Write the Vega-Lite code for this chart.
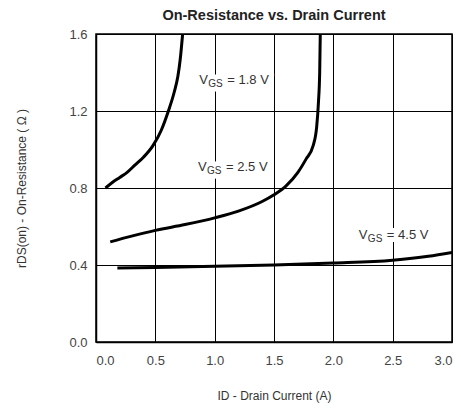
{
  "$schema": "https://vega.github.io/schema/vega-lite/v6.json",
  "autosize": "none",
  "width": 356,
  "height": 308,
  "padding": {"left": 96, "top": 34, "right": 9, "bottom": 67},
  "background": "white",
  "title": {"text": "On-Resistance vs. Drain Current", "font": "Liberation Sans", "fontSize": 14.5, "fontWeight": 600, "color": "#222", "offset": 5, "anchor": "middle"},
  "config": {
    "view": {"stroke": "black", "strokeWidth": 1.5},
    "axis": {"domainColor": "black", "domainWidth": 1.5, "gridColor": "black", "gridWidth": 1, "gridOpacity": 1, "ticks": false, "labelFont": "Liberation Sans", "labelFontSize": 13, "labelColor": "#444", "titleFont": "Liberation Sans", "titleFontSize": 12, "titleFontWeight": "normal", "titleColor": "#333"}
  },
  "datasets": {
    "curves": [
      {"vgs": "1.8", "id": 0.08, "r": 0.80}, {"vgs": "1.8", "id": 0.14, "r": 0.83}, {"vgs": "1.8", "id": 0.2, "r": 0.855}, {"vgs": "1.8", "id": 0.26, "r": 0.88}, {"vgs": "1.8", "id": 0.33, "r": 0.92}, {"vgs": "1.8", "id": 0.4, "r": 0.96}, {"vgs": "1.8", "id": 0.48, "r": 1.02}, {"vgs": "1.8", "id": 0.55, "r": 1.1}, {"vgs": "1.8", "id": 0.61, "r": 1.2}, {"vgs": "1.8", "id": 0.66, "r": 1.3}, {"vgs": "1.8", "id": 0.69, "r": 1.38}, {"vgs": "1.8", "id": 0.71, "r": 1.47}, {"vgs": "1.8", "id": 0.73, "r": 1.6},
      {"vgs": "2.5", "id": 0.12, "r": 0.52}, {"vgs": "2.5", "id": 0.3, "r": 0.55}, {"vgs": "2.5", "id": 0.5, "r": 0.58}, {"vgs": "2.5", "id": 0.75, "r": 0.61}, {"vgs": "2.5", "id": 1.0, "r": 0.645}, {"vgs": "2.5", "id": 1.2, "r": 0.68}, {"vgs": "2.5", "id": 1.4, "r": 0.73}, {"vgs": "2.5", "id": 1.5, "r": 0.765}, {"vgs": "2.5", "id": 1.6, "r": 0.81}, {"vgs": "2.5", "id": 1.7, "r": 0.88}, {"vgs": "2.5", "id": 1.77, "r": 0.95}, {"vgs": "2.5", "id": 1.83, "r": 1.02}, {"vgs": "2.5", "id": 1.86, "r": 1.12}, {"vgs": "2.5", "id": 1.875, "r": 1.25}, {"vgs": "2.5", "id": 1.885, "r": 1.4}, {"vgs": "2.5", "id": 1.89, "r": 1.6},
      {"vgs": "4.5", "id": 0.18, "r": 0.385}, {"vgs": "4.5", "id": 0.5, "r": 0.387}, {"vgs": "4.5", "id": 1.0, "r": 0.393}, {"vgs": "4.5", "id": 1.5, "r": 0.40}, {"vgs": "4.5", "id": 2.0, "r": 0.41}, {"vgs": "4.5", "id": 2.5, "r": 0.425}, {"vgs": "4.5", "id": 2.8, "r": 0.445}, {"vgs": "4.5", "id": 3.0, "r": 0.465}
    ],
    "labels": [
      {"id": 0.87, "r": 1.36, "v": "V", "sub": "GS", "rest": "= 1.8 V"},
      {"id": 0.86, "r": 0.91, "v": "V", "sub": "GS", "rest": "= 2.5 V"},
      {"id": 2.215, "r": 0.556, "v": "V", "sub": "GS", "rest": "= 4.5 V"}
    ]
  },
  "encoding": {
    "x": {"field": "id", "type": "quantitative", "scale": {"domain": [0, 3], "nice": false}, "axis": {"values": [0, 0.5, 1, 1.5, 2, 2.5, 3], "format": ".1f", "labelPadding": 12, "title": "ID  -  Drain Current (A)", "titlePadding": 23}},
    "y": {"field": "r", "type": "quantitative", "scale": {"domain": [0, 1.6], "nice": false}, "axis": {"values": [0, 0.4, 0.8, 1.2, 1.6], "format": ".1f", "labelPadding": 9, "title": "rDS(on)  -  On-Resistance ( Ω )", "titlePadding": 40}}
  },
  "layer": [
    {"data": {"name": "curves"}, "mark": {"type": "line", "color": "black", "strokeWidth": 3, "interpolate": "monotone", "clip": true}, "encoding": {"detail": {"field": "vgs"}}},
    {"data": {"name": "labels"}, "mark": {"type": "text", "align": "left", "baseline": "middle", "font": "Liberation Sans", "fontSize": 13, "stroke": "white", "strokeWidth": 10, "strokeJoin": "round", "fill": "white", "dx": 0}, "encoding": {"text": {"field": "v"}}},
    {"data": {"name": "labels"}, "mark": {"type": "text", "align": "left", "baseline": "middle", "font": "Liberation Sans", "fontSize": 10, "stroke": "white", "strokeWidth": 10, "strokeJoin": "round", "fill": "white", "dx": 9, "dy": 4}, "encoding": {"text": {"field": "sub"}}},
    {"data": {"name": "labels"}, "mark": {"type": "text", "align": "left", "baseline": "middle", "font": "Liberation Sans", "fontSize": 13, "stroke": "white", "strokeWidth": 10, "strokeJoin": "round", "fill": "white", "dx": 28}, "encoding": {"text": {"field": "rest"}}},
    {"data": {"name": "labels"}, "mark": {"type": "text", "align": "left", "baseline": "middle", "font": "Liberation Sans", "fontSize": 13, "color": "#333", "dx": 0}, "encoding": {"text": {"field": "v"}}},
    {"data": {"name": "labels"}, "mark": {"type": "text", "align": "left", "baseline": "middle", "font": "Liberation Sans", "fontSize": 10, "color": "#333", "dx": 9, "dy": 4}, "encoding": {"text": {"field": "sub"}}},
    {"data": {"name": "labels"}, "mark": {"type": "text", "align": "left", "baseline": "middle", "font": "Liberation Sans", "fontSize": 13, "color": "#333", "dx": 28}, "encoding": {"text": {"field": "rest"}}}
  ]
}
